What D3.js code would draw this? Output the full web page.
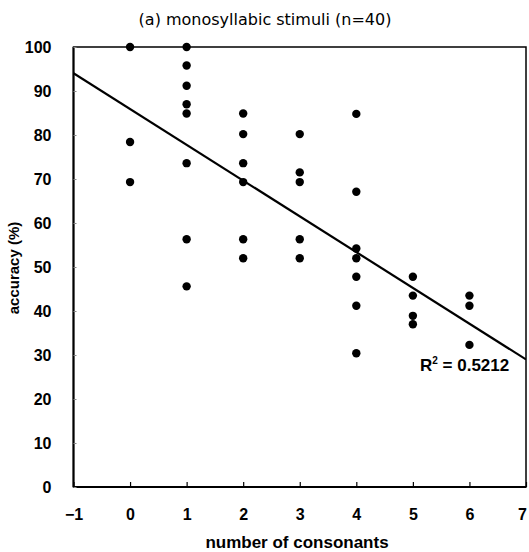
<!DOCTYPE html>
<html>
<head>
<meta charset="utf-8">
<script src="https://cdn.jsdelivr.net/npm/d3@7"></script>
<style>
  body { margin: 0; background: #fff; }
  svg { display: block; }
  text { font-family: "Liberation Sans", Arial, sans-serif; fill: #000; }
</style>
</head>
<body>
<svg id="chart" width="529" height="552"></svg>
<script>
// Data (consonant count, accuracy %)
const xValues = [0,0,0, 1,1,1,1,1,1,1,1, 2,2,2,2,2,2, 3,3,3,3,3, 4,4,4,4,4,4,4, 5,5,5,5, 6,6,6];
const yValues = [100,78.4,69.3, 100,95.8,91.2,87.0,84.9,73.6,56.3,45.6, 84.9,80.2,73.6,69.3,56.3,52.0, 80.2,71.5,69.3,56.3,52.0, 84.8,67.1,54.2,52.0,47.8,41.2,30.4, 47.8,43.5,38.9,37.0, 43.5,41.2,32.3];
const xTicks = [-1,0,1,2,3,4,5,6,7];
const yTicks = [0,10,20,30,40,50,60,70,80,90,100];
const trendSlope = -8.13;
const trendIntercept = 85.9;
const titleText = "(a) monosyllabic stimuli (n=40)";
const xTitle = "number of consonants";
const yTitle = "accuracy (%)";
const r2Value = "0.5212";

const svg = d3.select("#chart");
const L = 73.5, R = 526, T = 47, B = 487;
const x = d3.scaleLinear().domain([-1, 7]).range([L, R]);
const y = d3.scaleLinear().domain([0, 100]).range([B, T]);

// frame
svg.append("rect").attr("x", L).attr("y", T).attr("width", R - L).attr("height", B - T)
  .attr("fill", "none").attr("stroke", "#000").attr("stroke-width", 1.5);
svg.append("line").attr("x1", L).attr("x2", L).attr("y1", T).attr("y2", B).attr("stroke", "#000").attr("stroke-width", 2);
svg.append("line").attr("x1", L).attr("x2", R).attr("y1", B).attr("y2", B).attr("stroke", "#000").attr("stroke-width", 2);

// x axis
const xAxis = d3.axisBottom(x).tickValues(xTicks).tickSize(-5).tickPadding(22)
  .tickFormat(d => d < 0 ? "\u2212" + Math.abs(d) : d);
const gx = svg.append("g").attr("transform", `translate(0,${B})`).call(xAxis);
gx.select(".domain").remove();
gx.selectAll(".tick line").attr("stroke", "#000").attr("stroke-width", 1.2);
gx.selectAll("text").attr("font-size", 16).attr("font-weight", "bold")
  .style("font-family", "'Liberation Sans', Arial, sans-serif")
  .attr("dx", d => d === 7 ? -4 : 0);

// y axis
const yAxis = d3.axisLeft(y).tickValues(yTicks).tickSize(-3).tickPadding(22);
const gy = svg.append("g").attr("transform", `translate(${L},0)`).call(yAxis);
gy.select(".domain").remove();
gy.selectAll(".tick line").attr("stroke", "#888").attr("stroke-width", 1);
gy.selectAll("text").attr("font-size", 16).attr("font-weight", "bold")
  .style("font-family", "'Liberation Sans', Arial, sans-serif");

// trendline
svg.append("clipPath").attr("id", "plotclip").append("rect")
  .attr("x", L).attr("y", T).attr("width", R - L).attr("height", B - T);
svg.append("line")
  .attr("x1", x(-1)).attr("y1", y(trendSlope * -1 + trendIntercept))
  .attr("x2", x(7)).attr("y2", y(trendSlope * 7 + trendIntercept))
  .attr("stroke", "#000").attr("stroke-width", 2.2).attr("clip-path", "url(#plotclip)");

// points
const pts = xValues.map((v, i) => ({ x: v, y: yValues[i] }));
svg.append("g").selectAll("circle").data(pts).join("circle")
  .attr("cx", d => x(d.x)).attr("cy", d => y(d.y)).attr("r", 4.2).attr("fill", "#000");

// R² label
const r2 = svg.append("text").attr("x", 420).attr("y", 371).attr("font-size", 17).attr("font-weight", "bold");
r2.append("tspan").text("R");
r2.append("tspan").attr("font-size", 10).attr("dy", -7).text("2");
r2.append("tspan").attr("dy", 7).text(" = " + r2Value);

// title
svg.append("text").attr("x", 265).attr("y", 25).attr("text-anchor", "middle")
  .style("font-family", "'DejaVu Sans', sans-serif")
  .attr("font-size", 16).text(titleText);

// x title
svg.append("text").attr("x", 297).attr("y", 548).attr("text-anchor", "middle")
  .attr("font-size", 17).attr("font-weight", "bold").text(xTitle);

// y title
svg.append("text").attr("transform", "translate(19,268) rotate(-90)").attr("text-anchor", "middle")
  .attr("font-size", 15).attr("font-weight", "bold").text(yTitle);
</script>
</body>
</html>
